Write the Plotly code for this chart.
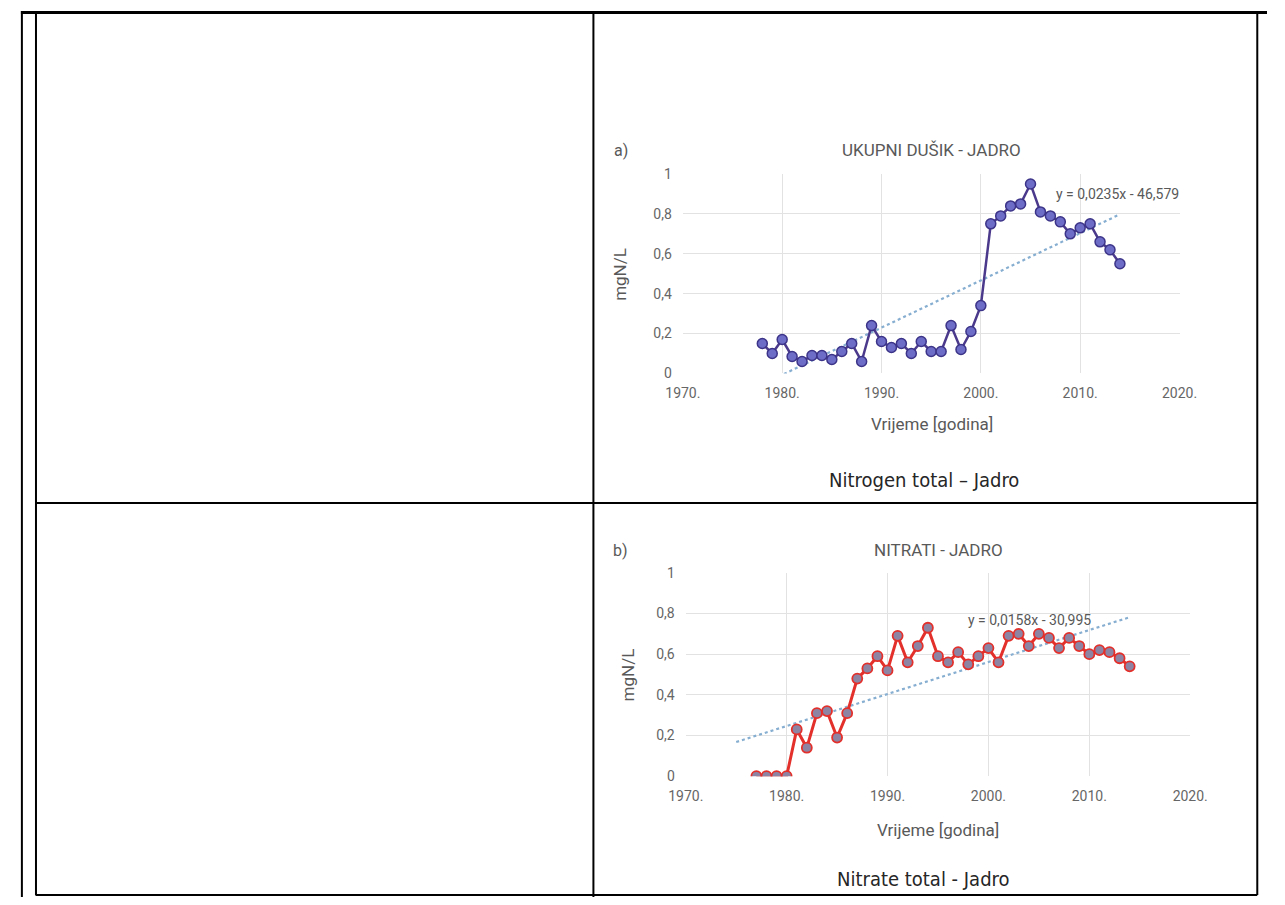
import numpy as np
import plotly.graph_objects as go

W, H = 1285, 905

# ---------------- data ----------------
years_n = list(range(1978, 2015))
total_n = [0.15, 0.10, 0.17, 0.085, 0.06, 0.09, 0.09, 0.07, 0.11, 0.15,
           0.06, 0.24, 0.16, 0.13, 0.15, 0.10, 0.16, 0.11, 0.11, 0.24,
           0.12, 0.21, 0.34, 0.75, 0.79, 0.84, 0.85, 0.95, 0.81, 0.79,
           0.76, 0.70, 0.73, 0.75, 0.66, 0.62, 0.55]

years_no3 = list(range(1977, 2015))
nitrate = [0.0, 0.0, 0.0, 0.0, 0.23, 0.14, 0.31, 0.32, 0.19, 0.31,
           0.48, 0.53, 0.59, 0.52, 0.69, 0.56, 0.64, 0.73, 0.59, 0.56,
           0.61, 0.55, 0.59, 0.63, 0.56, 0.69, 0.70, 0.64, 0.70, 0.68,
           0.63, 0.68, 0.64, 0.60, 0.62, 0.61, 0.58, 0.54]

x_tickvals = [1970, 1980, 1990, 2000, 2010, 2020]
x_ticktext = ["1970.", "1980.", "1990.", "2000.", "2010.", "2020."]
y_tickvals = [0, 0.2, 0.4, 0.6, 0.8, 1.0]
y_ticktext = ["0", "0,2", "0,4", "0,6", "0,8", "1"]

eq_a = "y = 0,0235x - 46,579"
eq_b = "y = 0,0158x - 30,995"
title_a = "UKUPNI DUŠIK - JADRO"
title_b = "NITRATI - JADRO"
caption_a = "Nitrogen total – Jadro"
caption_b = "Nitrate total - Jadro"
axis_x_title = "Vrijeme [godina]"
axis_y_title = "mgN/L"

# linear trends (least squares on the data, as in the source spreadsheet)
ca = np.polyfit(years_n, total_n, 1)
trend_a_x = [years_n[0], years_n[-1]]
trend_a_y = list(np.polyval(ca, trend_a_x))
cb = np.polyfit(years_no3, nitrate, 1)
trend_b_x = [years_no3[0] - 2, years_no3[-1]]
trend_b_y = list(np.polyval(cb, trend_b_x))


def px(x):
    return x / W


def py(y):
    return 1 - y / H


fig = go.Figure()

TREND = "#86aed0"
# chart a
fig.add_trace(go.Scatter(x=trend_a_x, y=trend_a_y, mode="lines",
                         line=dict(color=TREND, width=2.2, dash="dot"),
                         xaxis="x", yaxis="y", showlegend=False))
fig.add_trace(go.Scatter(x=years_n, y=total_n, mode="lines+markers",
                         line=dict(color="#4b3a8c", width=2.5),
                         marker=dict(size=10, color="#6d6cc6",
                                     line=dict(color="#3c3488", width=1.5)),
                         xaxis="x", yaxis="y", showlegend=False))
# chart b
fig.add_trace(go.Scatter(x=trend_b_x, y=trend_b_y, mode="lines",
                         line=dict(color=TREND, width=2.2, dash="dot"),
                         xaxis="x2", yaxis="y2", showlegend=False))
fig.add_trace(go.Scatter(x=years_no3, y=nitrate, mode="lines+markers",
                         line=dict(color="#e3302b", width=3),
                         marker=dict(size=10, color="#8d84a4",
                                     line=dict(color="#e3302b", width=1.8)),
                         xaxis="x2", yaxis="y2", showlegend=False))

FONT = "Roboto, Open Sans, sans-serif"
tickfont = dict(family=FONT, size=14, color="#666666")
xcommon = dict(range=[1970, 2020], tickvals=x_tickvals, ticktext=x_ticktext,
               showgrid=True, gridcolor="#e2e2e2", gridwidth=1,
               zeroline=False, showline=False, ticks="", tickfont=tickfont,
               ticklabelstandoff=10, fixedrange=True)
ycommon = dict(range=[0, 1], tickvals=y_tickvals, ticktext=y_ticktext,
               showgrid=True, gridcolor="#e2e2e2", gridwidth=1,
               zeroline=False, showline=False, ticks="", tickfont=tickfont,
               ticklabelstandoff=10, fixedrange=True)

fig.update_layout(
    width=W, height=H, autosize=False,
    margin=dict(l=0, r=0, t=0, b=0),
    paper_bgcolor="white", plot_bgcolor="white",
    xaxis=dict(domain=[px(684), px(1195)], anchor="y", **xcommon),
    yaxis=dict(domain=[py(372), py(169)], anchor="x", **ycommon),
    xaxis2=dict(domain=[px(687), px(1206)], anchor="y2", **xcommon),
    yaxis2=dict(domain=[py(782), py(575)], anchor="x2", **ycommon),
)

ann_font = dict(family=FONT, size=14, color="#595959")
title_font = dict(family=FONT, size=17, color="#595959")
label_font = dict(family=FONT, size=16, color="#595959")
axt_font = dict(family=FONT, size=17, color="#595959")
cap_font = dict(family="DejaVu Sans Condensed, DejaVu Sans, sans-serif",
                size=20, color="#262626")


def ann(text, x, y, font, **kw):
    fig.add_annotation(text=text, x=px(x), y=py(y), xref="paper", yref="paper",
                       showarrow=False, font=font, xanchor="center",
                       yanchor="middle", **kw)


ann("a)", 620, 145, label_font)
ann(title_a, 940, 145, title_font)
ann(axis_y_title, 620, 271, axt_font, textangle=-90)
ann(axis_x_title, 940, 423, axt_font)
ann(eq_a, 1131, 189, ann_font)
ann(caption_a, 932, 481, cap_font)

ann("b)", 620, 552, label_font)
ann(title_b, 947, 552, title_font)
ann(axis_y_title, 628, 679, axt_font, textangle=-90)
ann(axis_x_title, 947, 837, axt_font)
ann(eq_b, 1041, 623, ann_font)
ann(caption_b, 932, 887, cap_font)


# table borders
def hline(y, x0, x1, w):
    fig.add_shape(type="line", xref="paper", yref="paper",
                  x0=px(x0), x1=px(x1), y0=py(y), y1=py(y),
                  line=dict(color="black", width=w))


def vline(x, y0, y1, w):
    fig.add_shape(type="line", xref="paper", yref="paper",
                  x0=px(x), x1=px(x), y0=py(y0), y1=py(y1),
                  line=dict(color="black", width=w))


hline(4.5, 3, 1285, 3)
vline(4, 3, 905, 2)
vline(18.5, 4, 903, 2)
vline(592, 4, 905, 2)
vline(1275, 4, 903, 2)
hline(504, 18, 1275, 2)
hline(903, 18, 1275, 2)

fig.write_html("out.html",
               config={"displayModeBar": False, "staticPlot": True},
               post_script="document.body.style.margin='0px';"
                           "document.body.style.overflow='hidden';")
